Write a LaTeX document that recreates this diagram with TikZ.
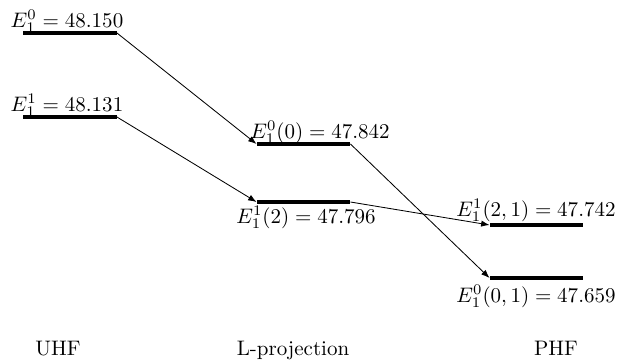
\documentclass[tikz,border=0pt]{standalone}
\usetikzlibrary{arrows.meta}
\begin{document}
\begin{tikzpicture}[x=0.476pt,y=-0.476pt,
  bar/.style={rectangle,fill=black,inner sep=0pt,minimum width=44.3pt,minimum height=1.5pt},
  lbl/.style={inner sep=0pt},
  conn/.style={-{Latex[length=4pt,width=3pt]},line width=0.4pt}]
\useasboundingbox (0,0) rectangle (626,360);
% bars
\node[bar] (u0) at (70,33) {};
\node[bar] (u1) at (70,117) {};
\node[bar] (l0) at (303.5,144) {};
\node[bar] (l2) at (303.5,202) {};
\node[bar] (p21) at (536.5,225) {};
\node[bar] (p01) at (536.5,278) {};
% labels
\node[lbl,anchor=base] (tu0) at (67,27) {$E_1^0=48.150$};
\node[lbl,anchor=base] (tu1) at (67,111) {$E_1^1=48.131$};
\node[lbl,anchor=base] (tl0) at (320,138) {$E_1^0(0)=47.842$};
\node[lbl,anchor=base] (tl2) at (306,223) {$E_1^1(2)=47.796$};
\node[lbl,anchor=base] (tp21) at (536,216) {$E_1^1(2,1)=47.742$};
\node[lbl,anchor=base] (tp01) at (536,302) {$E_1^0(0,1)=47.659$};
\node[lbl,anchor=base] (cu) at (58,355) {UHF};
\node[lbl,anchor=base] (cl) at (293,355) {L-projection};
\node[lbl,anchor=base] (cp) at (556,355) {PHF};
% connectors
\draw[conn] (u0.east) -- (l0.west);
\draw[conn] (u1.east) -- (l2.west);
\draw[conn] (l0.east) -- (p01.west);
\draw[conn] (l2.east) -- (p21.west);
\end{tikzpicture}
\end{document}
